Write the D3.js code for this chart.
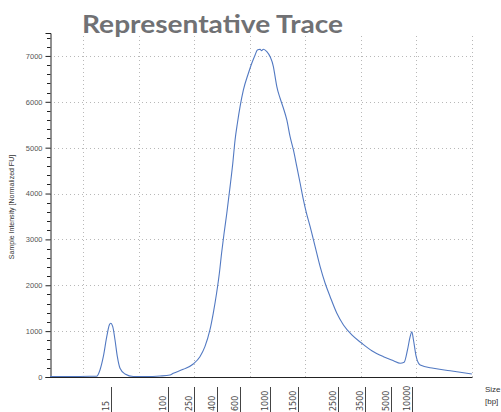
<!DOCTYPE html>
<html>
<head>
<meta charset="utf-8">
<script src="https://cdn.jsdelivr.net/npm/d3@7"></script>
<style>
  html, body { margin: 0; padding: 0; background: #fff; }
  svg { display: block; }
</style>
</head>
<body>
<script>
// ---- Data ----
const traceTime = [4.0, 7.6, 11.2, 12.4, 13.0, 13.6, 14.22, 14.68, 14.94, 15.3, 15.71, 16.13, 16.61, 17.51, 19.0, 21.4, 23.8, 25.6, 26.2, 28.0, 29.8, 31.0, 31.9, 32.8, 33.4, 34.0, 34.5, 34.9, 35.35, 35.84, 36.43, 36.92, 37.33, 37.75, 38.23, 38.83, 39.73, 40.34, 40.94, 41.35, 41.84, 42.1, 42.43, 43.05, 43.64, 44.23, 44.54, 44.85, 45.44, 46.04, 46.65, 47.24, 47.84, 48.45, 49.05, 49.64, 50.13, 50.85, 51.75, 52.65, 53.55, 54.45, 55.66, 56.85, 58.36, 60.16, 61.96, 64.05, 65.86, 67.06, 67.78, 68.38, 68.86, 69.17, 69.46, 69.95, 70.67, 73.06, 76.07, 79.98];
const traceFU   = [10, 10, 15, 15, 153, 443, 879, 1134, 1171, 1097, 807, 443, 190, 65, 10, 10, 22, 44, 81, 168, 283, 443, 661, 1025, 1389, 1825, 2261, 2697, 3133, 3570, 4150, 4660, 5168, 5532, 5894, 6258, 6622, 6840, 7021, 7130, 7146, 7115, 7146, 7093, 6984, 6766, 6548, 6330, 6077, 5859, 5604, 5240, 4950, 4586, 4224, 3860, 3600, 3277, 2841, 2405, 2043, 1751, 1389, 1134, 916, 735, 573, 443, 355, 299, 321, 589, 879, 988, 807, 443, 262, 190, 137, 65];

const ladderLabels = ["15", "100", "250", "400", "600", "1000", "1500", "2500", "3500", "5000", "10000"];
const ladderTimes  = [14.93, 25.29, 29.96, 33.99, 38.18, 43.7, 48.67, 55.81, 60.67, 65.47, 69.17];

const yTicks = [0, 1000, 2000, 3000, 4000, 5000, 6000, 7000];
const xGrid  = [10, 20, 30, 40, 50, 60, 70, 80];

const titleText = "Representative Trace";
const yLabel = "Sample Intensity [Normalized FU]";
const xUnitLines = ["Size", "[bp]"];

// ---- Drawing ----
const W = 501, H = 412;
const svg = d3.select("body").append("svg").attr("width", W).attr("height", H);

const x = d3.scaleLinear().domain([4, 80]).range([50, 472]);
const y = d3.scaleLinear().domain([0, 7500]).range([377, 33]);

// grid
const grid = svg.append("g").attr("stroke", "#b8b8b8").attr("stroke-width", 1).attr("stroke-dasharray", "1,3");
grid.selectAll("line.h").data(yTicks.filter(d => d > 0)).join("line")
  .attr("x1", x(4)).attr("x2", x(80))
  .attr("y1", d => Math.round(y(d)) + 0.5).attr("y2", d => Math.round(y(d)) + 0.5);
grid.selectAll("line.v").data(xGrid).join("line")
  .attr("x1", d => Math.round(x(d)) + 0.5).attr("x2", d => Math.round(x(d)) + 0.5)
  .attr("y1", y(0)).attr("y2", y(7500));

// y axis
const yAxis = d3.axisLeft(y).tickValues(yTicks).tickSize(5).tickPadding(3).tickFormat(d3.format("d"));
const gy = svg.append("g").attr("transform", "translate(50.5,0)").call(yAxis);
gy.select(".domain").attr("stroke", "#222");
gy.selectAll(".tick line").attr("stroke", "#222");
gy.selectAll(".tick text").attr("font-family", "Liberation Sans, Arial, sans-serif").attr("font-size", 7.5).attr("fill", "#555");
// minor ticks
const minor = d3.range(0, 7501, 200).filter(v => v % 1000 !== 0);
svg.append("g").selectAll("line").data(minor).join("line")
  .attr("x1", 47).attr("x2", 50.5)
  .attr("y1", d => Math.round(y(d)) + 0.5).attr("y2", d => Math.round(y(d)) + 0.5)
  .attr("stroke", "#222");

// x axis line
svg.append("line").attr("x1", 50).attr("x2", 472.5).attr("y1", 377.5).attr("y2", 377.5)
  .attr("stroke", "#222").attr("stroke-width", 1.2);

// trace
const line = d3.line().x((d, i) => x(traceTime[i])).y(d => y(d)).curve(d3.curveMonotoneX);
svg.append("path").datum(traceFU).attr("d", line)
  .attr("fill", "none").attr("stroke", "#5279c2").attr("stroke-width", 1.1);

// ladder markers
const lad = svg.append("g");
lad.selectAll("line").data(ladderTimes).join("line")
  .attr("x1", d => Math.round(x(d)) + 0.5).attr("x2", d => Math.round(x(d)) + 0.5)
  .attr("y1", 387).attr("y2", 412)
  .attr("stroke", "#444").attr("stroke-width", 1);
lad.selectAll("text").data(ladderLabels).join("text")
  .attr("transform", (d, i) => `translate(${Math.round(x(ladderTimes[i])) - 2.5},411) rotate(-90)`)
  .attr("font-family", "DejaVu Sans, sans-serif").attr("font-size", 8)
  .attr("fill", "#444").attr("text-anchor", "start")
  .text(d => d);

// unit label
svg.append("text").attr("x", 485).attr("y", 392)
  .attr("font-family", "Liberation Sans, Arial, sans-serif").attr("font-size", 8).attr("fill", "#333")
  .selectAll("tspan").data(xUnitLines).join("tspan")
  .attr("x", 485).attr("dy", (d, i) => i === 0 ? 0 : 11.5).text(d => d);

// y label
svg.append("text").attr("transform", "translate(14,207) rotate(-90)")
  .attr("text-anchor", "middle")
  .attr("font-family", "Liberation Sans, Arial, sans-serif").attr("font-size", 7).attr("fill", "#333")
  .text(yLabel);

// title
svg.append("text").attr("x", 82).attr("y", 33)
  .attr("font-family", "Lato, sans-serif").attr("font-weight", "bold").attr("font-size", 24)
  .attr("fill", "#707174").attr("textLength", 261).attr("lengthAdjust", "spacingAndGlyphs")
  .text(titleText);
</script>
</body>
</html>
